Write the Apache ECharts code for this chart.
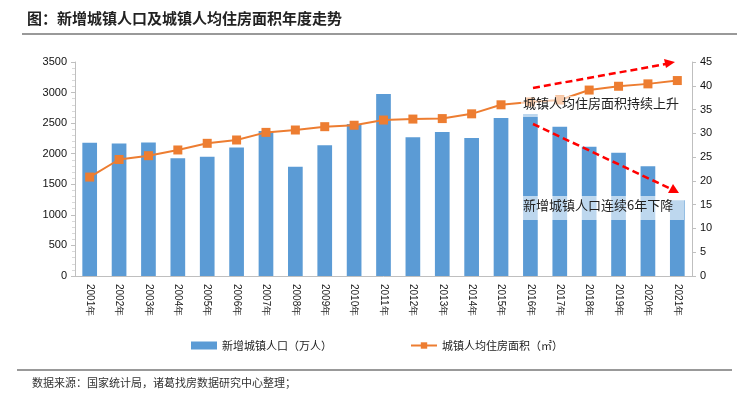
<!DOCTYPE html>
<html>
<head>
<meta charset="utf-8">
<script src="https://cdn.jsdelivr.net/npm/echarts@6/dist/echarts.min.js"></script>
<style>
  html, body { margin: 0; padding: 0; background: #fff; }
  #main { width: 740px; height: 398px; }
</style>
</head>
<body>
<div id="main"></div>
<script>
// 年份
const years = ['2001年', '2002年', '2003年', '2004年', '2005年', '2006年', '2007年', '2008年', '2009年', '2010年',
  '2011年', '2012年', '2013年', '2014年', '2015年', '2016年', '2017年', '2018年', '2019年', '2020年', '2021年'];
// 新增城镇人口（万人）
const newUrbanPop = [2180, 2167, 2185, 1925, 1951, 2100, 2372, 1788, 2137, 2486,
  2977, 2268, 2355, 2257, 2584, 2650, 2442, 2115, 2017, 1794, 1238];
// 城镇人均住房面积（㎡）
const areaPerCapita = [20.8, 24.5, 25.3, 26.5, 27.9, 28.6, 30.2, 30.7, 31.4, 31.7,
  32.8, 33.0, 33.1, 34.1, 36.0, 36.6, 37.0, 39.1, 39.9, 40.4, 41.1];

const cjk = '"Noto Sans CJK SC", sans-serif';
const num = 'Arial, "Liberation Sans", sans-serif';

const myChart = echarts.init(document.getElementById('main'));

myChart.setOption({
  animation: false,
  title: {
    text: '图：新增城镇人口及城镇人均住房面积年度走势',
    left: 22,
    top: 6,
    textStyle: { fontFamily: cjk, fontSize: 15, fontWeight: 'bold', color: '#222' }
  },
  legend: {
    top: 335,
    left: 186,
    itemGap: 78,
    itemWidth: 26,
    itemHeight: 8,
    textStyle: { fontFamily: cjk, fontSize: 11, color: '#222' },
    data: [
      { name: '新增城镇人口（万人）', icon: 'rect' },
      { name: '城镇人均住房面积（㎡）' }
    ]
  },
  grid: { left: 75, right: 48, top: 62, bottom: 122 },
  xAxis: {
    type: 'category',
    data: years,
    axisLine: { lineStyle: { color: '#bfbfbf' } },
    axisTick: { lineStyle: { color: '#bfbfbf' }, length: 5 },
    axisLabel: { rotate: -90, fontFamily: num, fontSize: 10, color: '#222', margin: 8 }
  },
  yAxis: [
    {
      type: 'value',
      min: 0, max: 3500, interval: 500,
      axisLine: { show: true, lineStyle: { color: '#bfbfbf' } },
      axisTick: { show: true, lineStyle: { color: '#bfbfbf' }, length: 4 },
      minorTick: { show: true, splitNumber: 5, length: 3, lineStyle: { color: '#d9d9d9' } },
      splitLine: { show: false },
      axisLabel: { fontFamily: num, fontSize: 11, color: '#111', formatter: v => String(v) }
    },
    {
      type: 'value',
      min: 0, max: 45, interval: 5,
      position: 'right',
      axisLine: { show: true, lineStyle: { color: '#bfbfbf' } },
      axisTick: { show: true, lineStyle: { color: '#bfbfbf' }, length: 4 },
      splitLine: { show: false },
      axisLabel: { fontFamily: num, fontSize: 11, color: '#111', margin: 8 }
    }
  ],
  series: [
    {
      name: '新增城镇人口（万人）',
      type: 'bar',
      data: newUrbanPop,
      barWidth: '50%',
      itemStyle: { color: '#5b9bd5' },
      z: 2
    },
    {
      name: '城镇人均住房面积（㎡）',
      type: 'line',
      yAxisIndex: 1,
      data: areaPerCapita,
      symbol: 'rect',
      symbolSize: 9,
      itemStyle: { color: '#ed7d31' },
      lineStyle: { color: '#ed7d31', width: 2 },
      z: 3
    }
  ],
  graphic: [
    // 标题下线、来源上线
    { type: 'line', shape: { x1: 22, y1: 34, x2: 737, y2: 34 }, style: { stroke: '#777', lineWidth: 1.5 } },
    { type: 'line', shape: { x1: 17, y1: 370, x2: 732, y2: 370 }, style: { stroke: '#777', lineWidth: 1.5 } },
    {
      type: 'text', left: 32, top: 377,
      style: { text: '数据来源：国家统计局，诸葛找房数据研究中心整理；', font: '11px "Noto Sans CJK SC"', fill: '#333' }
    },
    // 注释文字（半透明白底）
    { type: 'rect', shape: { x: 521, y: 96, width: 157, height: 21 }, style: { fill: 'rgba(255,255,255,0.6)' }, z: 10 },
    {
      type: 'text', left: 523, top: 97, z: 11,
      style: { text: '城镇人均住房面积持续上升', font: '13px "Noto Sans CJK SC"', fill: '#222' }
    },
    { type: 'rect', shape: { x: 521, y: 196, width: 163, height: 24 }, style: { fill: 'rgba(255,255,255,0.6)' }, z: 10 },
    {
      type: 'text', left: 523, top: 199, z: 11,
      style: { text: '新增城镇人口连续6年下降', font: '13px "Noto Sans CJK SC"', fill: '#222' }
    },
    // 红色虚线箭头
    { type: 'line', shape: { x1: 533, y1: 88, x2: 666, y2: 64 }, style: { stroke: '#ff0000', lineWidth: 2.5, lineDash: [7, 4] }, z: 12 },
    { type: 'polygon', shape: { points: [[675, 62], [664, 59], [666, 68]] }, style: { fill: '#ff0000' }, z: 12 },
    { type: 'line', shape: { x1: 533, y1: 124, x2: 671, y2: 189 }, style: { stroke: '#ff0000', lineWidth: 2.5, lineDash: [7, 4] }, z: 12 },
    { type: 'polygon', shape: { points: [[679, 193], [668, 193], [673, 184]] }, style: { fill: '#ff0000' }, z: 12 }
  ]
});
</script>
</body>
</html>
